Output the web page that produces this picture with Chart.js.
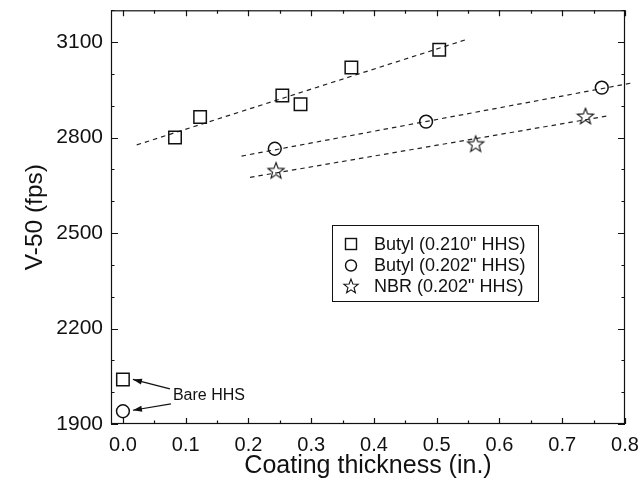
<!DOCTYPE html>
<html><head><meta charset="utf-8">
<script src="https://cdn.jsdelivr.net/npm/chart.js@4/dist/chart.umd.min.js"></script>
<style>html,body{margin:0;padding:0;background:#fff}#wrap{width:641px;height:485px}</style>
</head><body><div id="wrap"><canvas id="c" width="641" height="485"></canvas></div>
<script>
// ---- data ----
const butyl210X = [0.0, 0.083, 0.123, 0.254, 0.283, 0.364, 0.504];
const butyl210Y = [2040, 2800, 2865, 2932, 2905, 3020, 3076];
const butyl202X = [0.0, 0.242, 0.483, 0.763];
const butyl202Y = [1940, 2765, 2850, 2957];
const nbrX = [0.244, 0.562, 0.737];
const nbrY = [2697, 2781, 2868];
// dashed trend lines (end points)
const fit210X = [0.022, 0.547];
const fit210Y = [2777, 3108];
const fit202X = [0.189, 0.812];
const fit202Y = [2742, 2972];
const fitNbrX = [0.2025, 0.772];
const fitNbrY = [2675, 2868];
// ticks and labels
const xTicks = [0, 0.1, 0.2, 0.3, 0.4, 0.5, 0.6, 0.7, 0.8];
const yTicks = [1900, 2200, 2500, 2800, 3100];
const seriesNames = ['Butyl (0.210" HHS)', 'Butyl (0.202" HHS)', 'NBR (0.202" HHS)'];
const xTitle = 'Coating thickness (in.)';
const yTitle = 'V-50 (fps)';
const noteText = 'Bare HHS';

const FONT = '"Liberation Sans", Arial, Helvetica, sans-serif';
const INK = '#111';

function toPts(xs, ys) { return xs.map((x, i) => ({x: x, y: ys[i]})); }

function drawStarPath(ctx, cx, cy, R, r) {
  ctx.beginPath();
  for (let i = 0; i < 10; i++) {
    const a = -Math.PI / 2 + i * Math.PI / 5;
    const rad = i % 2 === 0 ? R : r;
    const px = cx + rad * Math.cos(a), py = cy + rad * Math.sin(a);
    if (i === 0) ctx.moveTo(px, py); else ctx.lineTo(px, py);
  }
  ctx.closePath();
}
function makeStar(size, R, r, lw) {
  const cv = document.createElement('canvas');
  cv.width = size; cv.height = size;
  const g = cv.getContext('2d');
  g.strokeStyle = INK; g.lineWidth = lw; g.lineJoin = 'miter';
  drawStarPath(g, size / 2, size / 2 + 0.8, R, r);
  g.stroke();
  return cv;
}
const starImg = makeStar(20, 8.5, 3.6, 1.1);

const lineDs = (xs, ys) => ({
  type: 'line', data: toPts(xs, ys), borderColor: '#222', borderWidth: 1.2,
  borderDash: [4.5, 4], pointRadius: 0, fill: false, tension: 0, clip: false
});

const framePlugin = {
  id: 'frame',
  afterDraw(chart) {
    const ctx = chart.ctx, a = chart.chartArea;
    const xs = chart.scales.x, ys = chart.scales.y;
    ctx.save();
    ctx.strokeStyle = INK; ctx.lineWidth = 1.2;
    ctx.strokeRect(a.left + 0.5, a.top + 0.5, a.right - a.left - 1, a.bottom - a.top - 1);
    ctx.beginPath();
    // x ticks (inward, bottom and top)
    for (let k = 0; k <= 16; k++) {
      const v = k * 0.05;
      const px = Math.round(xs.getPixelForValue(v)) + 0.5;
      const L = k % 2 === 0 ? 6 : 3.5;
      ctx.moveTo(px, a.bottom); ctx.lineTo(px, a.bottom - L);
      ctx.moveTo(px, a.top); ctx.lineTo(px, a.top + L);
    }
    // y ticks (inward, left and right)
    for (let v = 1900; v <= 3200; v += 100) {
      const py = Math.round(ys.getPixelForValue(v)) + 0.5;
      const L = (v - 1900) % 300 === 0 ? 7 : 3.5;
      ctx.moveTo(a.left, py); ctx.lineTo(a.left + L, py);
      ctx.moveTo(a.right, py); ctx.lineTo(a.right - L, py);
    }
    ctx.stroke();

    // legend box
    const lx = 332, ly = 225, lw = 206, lh = 76;
    ctx.fillStyle = '#fff';
    ctx.fillRect(lx, ly, lw, lh);
    ctx.lineWidth = 1;
    ctx.strokeRect(lx + 0.5, ly + 0.5, lw, lh);
    const rows = [244, 265.5, 286];
    ctx.font = '18px ' + FONT;
    ctx.textBaseline = 'middle'; ctx.textAlign = 'left';
    ctx.fillStyle = INK;
    ctx.lineWidth = 1.4;
    ctx.strokeRect(351 - 5.5, rows[0] - 5.5, 11, 11);
    ctx.beginPath(); ctx.arc(351, rows[1], 5.5, 0, Math.PI * 2); ctx.stroke();
    ctx.lineWidth = 1.1;
    drawStarPath(ctx, 351, rows[2] + 0.6, 7.5, 3.2); ctx.stroke();
    seriesNames.forEach((t, i) => ctx.fillText(t, 374, rows[i] + 1));

    // "Bare HHS" annotation with arrows
    const sqX = xs.getPixelForValue(butyl210X[0]), sqY = ys.getPixelForValue(butyl210Y[0]);
    const ciX = xs.getPixelForValue(butyl202X[0]), ciY = ys.getPixelForValue(butyl202Y[0]);
    ctx.font = '16px ' + FONT;
    ctx.textBaseline = 'middle';
    const tx = sqX + 50, ty = (sqY + ciY) / 2 + 0.5;
    ctx.fillText(noteText, tx, ty);
    function arrow(x0, y0, x1, y1) {
      ctx.lineWidth = 1.2;
      ctx.beginPath(); ctx.moveTo(x0, y0); ctx.lineTo(x1, y1); ctx.stroke();
      const ang = Math.atan2(y1 - y0, x1 - x0), hl = 9, hw = 3;
      ctx.beginPath();
      ctx.moveTo(x1, y1);
      ctx.lineTo(x1 - hl * Math.cos(ang) + hw * Math.sin(ang), y1 - hl * Math.sin(ang) - hw * Math.cos(ang));
      ctx.lineTo(x1 - hl * Math.cos(ang) - hw * Math.sin(ang), y1 - hl * Math.sin(ang) + hw * Math.cos(ang));
      ctx.closePath(); ctx.fill();
    }
    arrow(tx - 3, ty - 7, sqX + 10, sqY);
    arrow(tx - 2, ty + 8, ciX + 10, ciY - 1);
    ctx.restore();
  }
};

new Chart(document.getElementById('c'), {
  type: 'scatter',
  data: {
    datasets: [
      { label: seriesNames[0], data: toPts(butyl210X, butyl210Y), pointStyle: 'rect', pointRadius: 8.8,
        borderColor: INK, borderWidth: 1.5, backgroundColor: 'rgba(0,0,0,0)' },
      { label: seriesNames[1], data: toPts(butyl202X, butyl202Y), pointStyle: 'circle', pointRadius: 6.4,
        borderColor: INK, borderWidth: 1.5, backgroundColor: 'rgba(0,0,0,0)' },
      { label: seriesNames[2], data: toPts(nbrX, nbrY), pointStyle: starImg, pointRadius: 8,
        borderColor: INK, backgroundColor: 'rgba(0,0,0,0)' },
      lineDs(fit210X, fit210Y),
      lineDs(fit202X, fit202Y),
      lineDs(fitNbrX, fitNbrY)
    ]
  },
  options: {
    responsive: false, animation: false, devicePixelRatio: 1,
    layout: { padding: { left: 0, top: 9, right: 16, bottom: 0 } },
    plugins: { legend: { display: false }, tooltip: { enabled: false } },
    scales: {
      x: {
        type: 'linear', min: -0.019, max: 0.8,
        afterBuildTicks: s => { s.ticks = xTicks.map(v => ({value: v})); },
        afterFit: s => { s.height = 61; s.paddingLeft = 0; s.paddingRight = 0; },
        grid: { display: false, drawTicks: false }, border: { display: false },
        ticks: { color: INK, font: { family: FONT, size: 20 }, padding: 9,
                 callback: v => Number(v).toFixed(1), maxRotation: 0, autoSkip: false },
        title: { display: true, text: xTitle, color: INK, font: { family: FONT, size: 25 },
                 padding: { top: 0, bottom: 4 } }
      },
      y: {
        type: 'linear', min: 1900, max: 3200,
        afterBuildTicks: s => { s.ticks = yTicks.map(v => ({value: v})); },
        afterFit: s => { s.width = 111; s.paddingTop = 0; s.paddingBottom = 0; },
        grid: { display: false, drawTicks: false }, border: { display: false },
        ticks: { color: INK, font: { family: FONT, size: 21 }, padding: 8,
                 callback: v => String(v), autoSkip: false },
        title: { display: true, text: yTitle, color: INK, font: { family: FONT, size: 24.5 },
                 padding: { top: 21, bottom: 0 } }
      }
    }
  },
  plugins: [framePlugin]
});
</script>
</body></html>
